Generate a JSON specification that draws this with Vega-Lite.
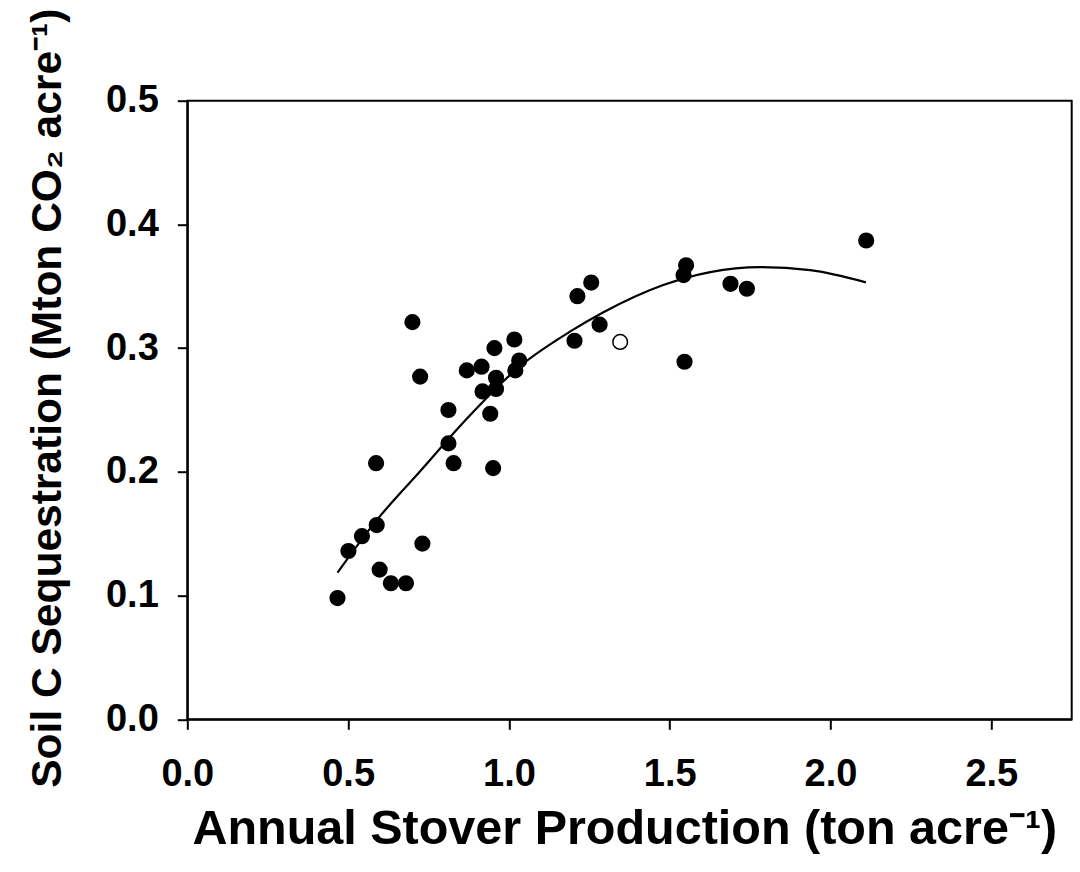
{
  "$schema": "https://vega.github.io/schema/vega-lite/v6.json",
  "width": 884.4,
  "height": 618.6,
  "autosize": "none",
  "padding": {"left": 187.3, "top": 100.7, "right": 8.3, "bottom": 152.7},
  "background": "white",
  "config": {
    "view": {"stroke": "black", "strokeWidth": 2},
    "font": "Liberation Sans",
    "axis": {
      "grid": false,
      "domainColor": "black",
      "domainWidth": 2,
      "tickColor": "black",
      "tickWidth": 2,
      "tickSize": 10,
      "labelFont": "Liberation Sans",
      "labelFontWeight": "bold",
      "labelFontSize": 38,
      "labelColor": "black",
      "titleFont": "Liberation Sans",
      "titleFontWeight": "bold",
      "titleColor": "black"
    }
  },
  "datasets": {
    "pts": [
      {"stover": 0.467, "seq": 0.098, "kind": "filled"},
      {"stover": 0.501, "seq": 0.136, "kind": "filled"},
      {"stover": 0.543, "seq": 0.148, "kind": "filled"},
      {"stover": 0.587, "seq": 0.207, "kind": "filled"},
      {"stover": 0.589, "seq": 0.157, "kind": "filled"},
      {"stover": 0.598, "seq": 0.121, "kind": "filled"},
      {"stover": 0.633, "seq": 0.110, "kind": "filled"},
      {"stover": 0.680, "seq": 0.110, "kind": "filled"},
      {"stover": 0.700, "seq": 0.321, "kind": "filled"},
      {"stover": 0.724, "seq": 0.277, "kind": "filled"},
      {"stover": 0.731, "seq": 0.142, "kind": "filled"},
      {"stover": 0.812, "seq": 0.250, "kind": "filled"},
      {"stover": 0.812, "seq": 0.223, "kind": "filled"},
      {"stover": 0.828, "seq": 0.207, "kind": "filled"},
      {"stover": 0.869, "seq": 0.282, "kind": "filled"},
      {"stover": 0.915, "seq": 0.285, "kind": "filled"},
      {"stover": 0.918, "seq": 0.265, "kind": "filled"},
      {"stover": 0.942, "seq": 0.247, "kind": "filled"},
      {"stover": 0.951, "seq": 0.203, "kind": "filled"},
      {"stover": 0.955, "seq": 0.300, "kind": "filled"},
      {"stover": 0.960, "seq": 0.276, "kind": "filled"},
      {"stover": 0.960, "seq": 0.267, "kind": "filled"},
      {"stover": 1.017, "seq": 0.307, "kind": "filled"},
      {"stover": 1.020, "seq": 0.282, "kind": "filled"},
      {"stover": 1.032, "seq": 0.290, "kind": "filled"},
      {"stover": 1.204, "seq": 0.306, "kind": "filled"},
      {"stover": 1.213, "seq": 0.342, "kind": "filled"},
      {"stover": 1.256, "seq": 0.353, "kind": "filled"},
      {"stover": 1.282, "seq": 0.319, "kind": "filled"},
      {"stover": 1.543, "seq": 0.359, "kind": "filled"},
      {"stover": 1.551, "seq": 0.367, "kind": "filled"},
      {"stover": 1.546, "seq": 0.289, "kind": "filled"},
      {"stover": 1.689, "seq": 0.352, "kind": "filled"},
      {"stover": 1.740, "seq": 0.348, "kind": "filled"},
      {"stover": 2.111, "seq": 0.387, "kind": "filled"},
      {"stover": 1.346, "seq": 0.305, "kind": "open"}
    ],
    "fit": [
      {"stover": 0.467, "seq": 0.1185},
      {"stover": 0.589, "seq": 0.161},
      {"stover": 0.724, "seq": 0.2005},
      {"stover": 0.864, "seq": 0.2415},
      {"stover": 1.035, "seq": 0.2855},
      {"stover": 1.191, "seq": 0.3135},
      {"stover": 1.294, "seq": 0.3290},
      {"stover": 1.480, "seq": 0.3510},
      {"stover": 1.626, "seq": 0.3615},
      {"stover": 1.781, "seq": 0.3655},
      {"stover": 1.937, "seq": 0.3630},
      {"stover": 2.110, "seq": 0.3532}
    ]
  },
  "encoding": {
    "x": {
      "field": "stover",
      "type": "quantitative",
      "scale": {"domain": [0, 2.75], "nice": false, "zero": false},
      "axis": {
        "title": "Annual Stover Production (ton acre⁻¹)",
        "titleFontSize": 48.5,
        "titleBaseline": "alphabetic",
        "titleAlign": "center",
        "titleX": 437,
        "titleY": 123.7,
        "values": [0, 0.5, 1.0, 1.5, 2.0, 2.5],
        "format": ".1f",
        "labelBaseline": "alphabetic",
        "labelPadding": 56,
        "labelFlush": false,
        "labelOverlap": false
      }
    },
    "y": {
      "field": "seq",
      "type": "quantitative",
      "scale": {"domain": [0, 0.5], "nice": false},
      "axis": {
        "title": "Soil C Sequestration (Mton CO₂ acre⁻¹)",
        "titleFontSize": 42.5,
        "titleAngle": -90,
        "titleBaseline": "alphabetic",
        "titleAlign": "center",
        "titleX": -127,
        "titleY": 297,
        "values": [0, 0.1, 0.2, 0.3, 0.4, 0.5],
        "format": ".1f",
        "labelPadding": 19,
        "labelFlush": false,
        "labelOverlap": false
      }
    }
  },
  "layer": [
    {
      "data": {"name": "fit"},
      "mark": {"type": "line", "color": "black", "strokeWidth": 2.2, "interpolate": "monotone"}
    },
    {
      "data": {"name": "pts"},
      "mark": {"type": "point", "shape": "circle", "size": 215, "filled": false, "stroke": "black", "strokeWidth": 1.5, "opacity": 1},
      "encoding": {
        "fill": {
          "field": "kind",
          "type": "nominal",
          "scale": {"domain": ["filled", "open"], "range": ["black", "white"]},
          "legend": null
        }
      }
    }
  ]
}
